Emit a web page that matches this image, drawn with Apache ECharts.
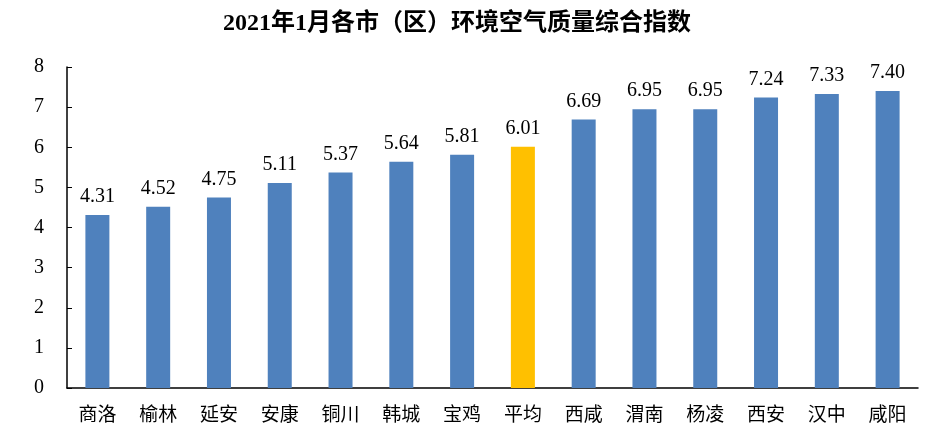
<!DOCTYPE html>
<html lang="zh">
<head>
    <meta charset="UTF-8">
    <title>2021年1月各市（区）环境空气质量综合指数</title>
    <script src="https://cdn.jsdelivr.net/npm/echarts@6/dist/echarts.min.js"></script>
    <style>
        html, body {margin: 0; padding: 0; background: #fff;}
        #chart {width: 946px; height: 443px;}
    </style>
</head>
<body>
<div id="chart"></div>
<script type="application/javascript">
    var cities = ['商洛', '榆林', '延安', '安康', '铜川', '韩城', '宝鸡', '平均', '西咸', '渭南', '杨凌', '西安', '汉中', '咸阳'];
    var indexValues = [4.31, 4.52, 4.75, 5.11, 5.37, 5.64, 5.81, 6.01, 6.69, 6.95, 6.95, 7.24, 7.33, 7.40];
    var yTicks = [0, 1, 2, 3, 4, 5, 6, 7, 8];

    var serif = '"Times New Roman", "Liberation Serif", "Noto Sans CJK SC", serif';

    var chart = echarts.init(document.getElementById('chart'));
    var option = {
        animation: false,
        title: {
            text: '2021年1月各市（区）环境空气质量综合指数',
            left: 218,
            top: 7,
            textStyle: {fontFamily: serif, fontSize: 24, fontWeight: 'bold', color: '#000'}
        },
        grid: {left: 67, right: 28, top: 67, bottom: 55},
        xAxis: {
            type: 'category',
            data: cities,
            axisLine: {lineStyle: {color: '#000', width: 1.5}},
            axisTick: {inside: true, length: 6, lineStyle: {color: '#000'}},
            axisLabel: {
                margin: 16,
                fontFamily: '"Noto Sans CJK SC", sans-serif',
                fontSize: 19,
                color: '#000'
            }
        },
        yAxis: {
            type: 'value',
            min: yTicks[0],
            max: yTicks[yTicks.length - 1],
            interval: 1,
            splitLine: {show: false},
            axisLine: {show: true, lineStyle: {color: '#000', width: 1.5}},
            axisTick: {show: true, inside: true, length: 5, lineStyle: {color: '#000'}},
            axisLabel: {margin: 23, fontFamily: serif, fontSize: 20, color: '#000'}
        },
        series: [{
            type: 'bar',
            barWidth: 24,
            data: indexValues.map(function (v, i) {
                return {
                    value: v,
                    itemStyle: {color: cities[i] === '平均' ? '#ffc000' : '#4f81bd'}
                };
            }),
            label: {
                show: true,
                position: 'top',
                distance: 8,
                fontFamily: serif,
                fontSize: 20,
                color: '#000',
                formatter: function (p) {
                    return p.value.toFixed(2);
                }
            }
        }]
    };
    chart.setOption(option);
</script>
</body>
</html>
